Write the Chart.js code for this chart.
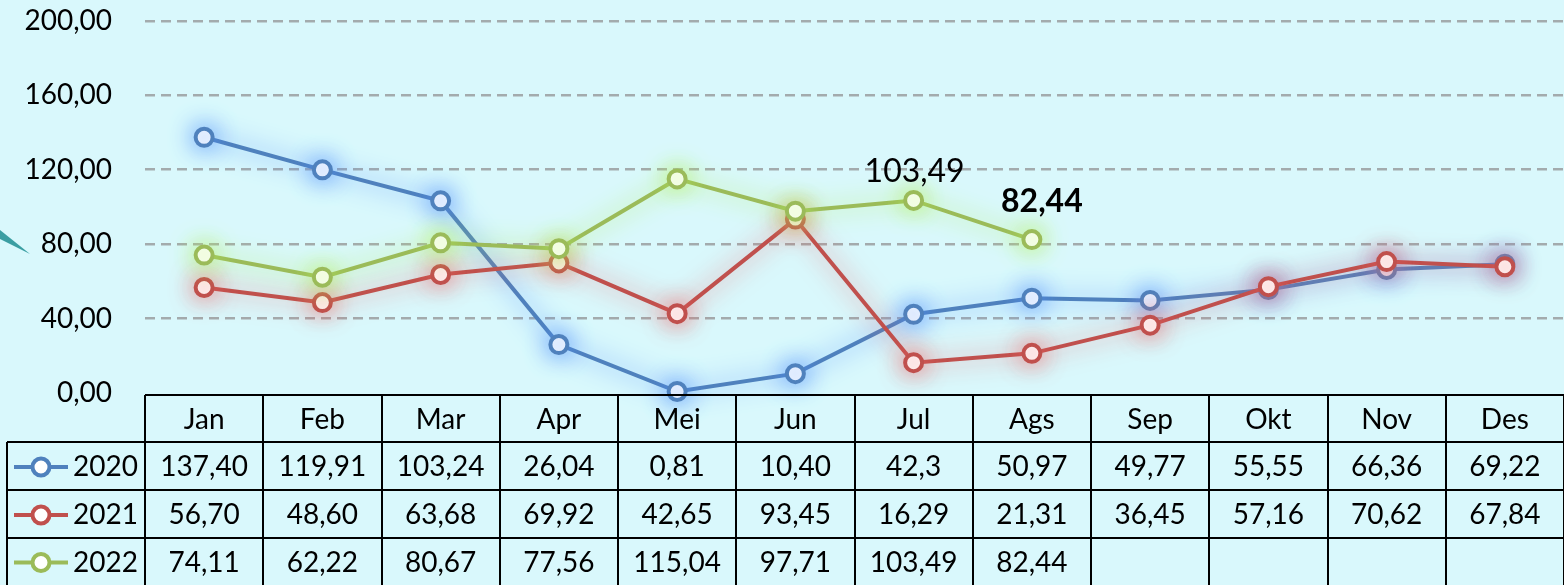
<!DOCTYPE html>
<html>
<head>
<meta charset="utf-8">
<script src="https://cdn.jsdelivr.net/npm/chart.js@4/dist/chart.umd.min.js"></script>
<style>
  html, body { margin: 0; padding: 0; background: #d9f8fc; }
  #chart { display: block; }
</style>
</head>
<body>
<canvas id="chart" width="1564" height="585"></canvas>
<script>
 var months = ["Jan", "Feb", "Mar", "Apr", "Mei", "Jun", "Jul", "Ags", "Sep", "Okt", "Nov", "Des"];
 var years = ["2020", "2021", "2022"];
 // values as shown in the table cells
 var text2020 = ["137,40", "119,91", "103,24", "26,04", "0,81", "10,40", "42,3", "50,97", "49,77", "55,55", "66,36", "69,22"];
 var text2021 = ["56,70", "48,60", "63,68", "69,92", "42,65", "93,45", "16,29", "21,31", "36,45", "57,16", "70,62", "67,84"];
 var text2022 = ["74,11", "62,22", "80,67", "77,56", "115,04", "97,71", "103,49", "82,44", "", "", "", ""];
 var yTicks = [0, 40, 80, 120, 160, 200];

 function toNum(s) { return s === "" ? null : parseFloat(s.replace(",", ".")); }

 var tableText = [text2020, text2021, text2022];
 var colors = ['#4f81bd', '#c0504d', '#9bbb59'];
 var glows = ['rgba(80,145,255,1)', 'rgba(240,100,100,0.9)', 'rgba(180,240,90,1)'];
 var FONT = 'Lato, "Open Sans", sans-serif';

 var glowPlugin = {
   id: 'glow',
   beforeDatasetDraw: function (chart, args) {
     var ctx = chart.ctx;
     ctx.save();
     ctx.shadowColor = glows[args.index];
     ctx.shadowBlur = 24;
   },
   afterDatasetDraw: function (chart) {
     chart.ctx.restore();
   }
 };

 var decoPlugin = {
   id: 'deco',
   beforeDraw: function (chart) {
     var ctx = chart.ctx;
     ctx.save();
     ctx.fillStyle = '#d9f8fc';
     ctx.fillRect(0, 0, chart.width, chart.height);
     // small teal stroke at the left edge
     ctx.fillStyle = '#3a9ea2';
     ctx.beginPath();
     ctx.moveTo(0, 230);
     ctx.lineTo(30, 254);
     ctx.lineTo(0, 239);
     ctx.closePath();
     ctx.fill();
     ctx.restore();
   }
 };

 var tablePlugin = {
   id: 'dataTable',
   afterDraw: function (chart) {
     var ctx = chart.ctx;
     var xs = chart.scales.x;
     var area = chart.chartArea;
     var band = (area.right - area.left) / months.length;
     var top = 395, rows = [442, 490, 538, 586], left = 7;
     ctx.save();
     ctx.strokeStyle = '#000';
     ctx.lineWidth = 2;
     ctx.beginPath();
     ctx.moveTo(area.left, top); ctx.lineTo(area.right, top);
     for (var r = 0; r < 3; r++) { ctx.moveTo(left, rows[r]); ctx.lineTo(area.right, rows[r]); }
     ctx.moveTo(left, rows[0]); ctx.lineTo(left, 585);
     for (var c = 0; c <= months.length; c++) {
       var bx = Math.round(area.left + c * band);
       ctx.moveTo(bx, top); ctx.lineTo(bx, 585);
     }
     ctx.stroke();

     ctx.fillStyle = '#000';
     ctx.font = '28px ' + FONT;
     ctx.textAlign = 'center';
     ctx.textBaseline = 'middle';
     months.forEach(function (m, i) {
       ctx.fillText(m, xs.getPixelForValue(i), (top + rows[0]) / 2 + 1);
     });
     for (var s = 0; s < 3; s++) {
       var cy = (rows[s] + (s < 2 ? rows[s + 1] : 585)) / 2 + 1;
       tableText[s].forEach(function (t, i) {
         if (t) ctx.fillText(t, xs.getPixelForValue(i), cy);
       });
       // legend key
       ctx.strokeStyle = colors[s];
       ctx.lineWidth = 4;
       ctx.beginPath(); ctx.moveTo(14, cy); ctx.lineTo(68, cy); ctx.stroke();
       ctx.beginPath(); ctx.arc(41, cy, 8.5, 0, Math.PI * 2);
       ctx.fillStyle = '#fff'; ctx.fill(); ctx.stroke();
       ctx.fillStyle = '#000';
       ctx.textAlign = 'left';
       ctx.fillText(years[s], 73, cy);
       ctx.textAlign = 'center';
     }

     // data labels on 2022 series
     var meta = chart.getDatasetMeta(2);
     var p6 = meta.data[6], p7 = meta.data[7];
     ctx.textBaseline = 'alphabetic';
     ctx.font = '32px ' + FONT;
     ctx.fillText(text2022[6], p6.x + 1, p6.y - 18);
     ctx.font = 'bold 32px ' + FONT;
     ctx.fillText(text2022[7], p7.x + 10, p7.y - 28);
     ctx.restore();
   }
 };

 function ds(label, values, idx) {
   return {
     label: label,
     data: values.map(toNum),
     borderColor: colors[idx],
     backgroundColor: '#fff',
     borderWidth: 4,
     pointRadius: 8.5,
     pointBorderWidth: 4,
     pointBackgroundColor: '#fff',
     pointBorderColor: colors[idx],
     order: 2 - idx,
     clip: false,
     spanGaps: false
   };
 }

 var ctxmain = document.getElementById("chart");
 var mainChart = new Chart(ctxmain, {
   type: 'line',
   data: {
     labels: months,
     datasets: [ds(years[0], text2020, 0), ds(years[1], text2021, 1), ds(years[2], text2022, 2)]
   },
   options: {
     responsive: false,
     animation: false,
     layout: { autoPadding: false, padding: { top: 0, right: 0, bottom: 192, left: 0 } },
     plugins: { legend: { display: false }, tooltip: { enabled: false } },
     scales: {
       x: { type: 'category', offset: true, display: false },
       y: {
         min: 0,
         max: 200,
         afterFit: function (scale) { scale.width = 145; },
         afterBuildTicks: function (scale) { scale.ticks = yTicks.map(function (v) { return { value: v }; }); },
         grid: {
           drawTicks: true,
           tickLength: 29,
           tickColor: 'rgba(0,0,0,0)',
           color: function (c) { return c.tick.value === 0 ? 'rgba(0,0,0,0)' : '#a3abad'; },
           lineWidth: 2.5
         },
         border: { display: false, dash: [10, 6] },
         ticks: {
           padding: 4,
           color: '#000',
           font: { family: FONT, size: 28 },
           callback: function (v) { return v.toFixed(2).replace('.', ','); }
         }
       }
     }
   },
   plugins: [decoPlugin, glowPlugin, tablePlugin]
 });
</script>
</body>
</html>
